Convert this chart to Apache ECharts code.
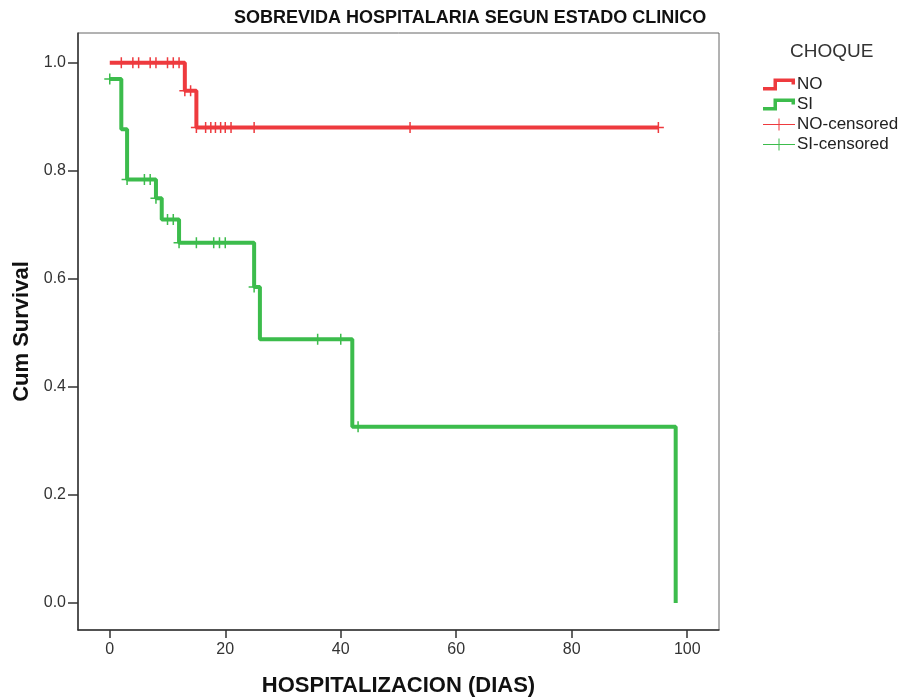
<!DOCTYPE html>
<html>
<head>
<meta charset="utf-8">
<script src="https://cdn.jsdelivr.net/npm/echarts@6/dist/echarts.min.js"></script>
<style>
html,body{margin:0;padding:0;background:#fff;}
#chart{width:906px;height:697px;}
</style>
</head>
<body>
<div id="chart"></div>
<script>
// ---- data ----
const noTimes = [0, 13, 15, 95];
const noSurv  = [1.0, 0.948, 0.880, 0.880];
const siTimes = [0, 2, 3, 8, 9, 12, 25, 26, 42, 98];
const siSurv  = [0.970, 0.877, 0.784, 0.749, 0.710, 0.667, 0.585, 0.488, 0.326, 0.0];
const noCensTimes = [2, 4, 5, 7, 8, 10, 11, 12, 13, 14, 15, 16.6, 17.5, 18.3, 19.2, 20, 21, 25, 52, 95];
const noCensSurv  = [1.0, 1.0, 1.0, 1.0, 1.0, 1.0, 1.0, 1.0, 0.948, 0.948, 0.880, 0.880, 0.880, 0.880, 0.880, 0.880, 0.880, 0.880, 0.880, 0.880];
const siCensTimes = [0, 3, 6, 7, 8, 10, 11, 12, 15, 18, 19, 20, 25, 36, 40, 43];
const siCensSurv  = [0.970, 0.784, 0.784, 0.784, 0.749, 0.710, 0.710, 0.667, 0.667, 0.667, 0.667, 0.667, 0.585, 0.488, 0.488, 0.326];
const xTicks = [0, 20, 40, 60, 80, 100];
const yTicks = [0, 0.2, 0.4, 0.6, 0.8, 1.0];
const seriesNames = ['NO', 'SI', 'NO-censored', 'SI-censored'];

const RED = '#ee3a3e';
const GREEN = '#3cbc4c';
const zip = (a, b) => a.map((v, i) => [v, b[i]]);
const plusPath = 'path://M4.75,0H6.25V11H4.75Z M0,4.75H11V6.25H0Z';
const stepIcon = 'path://M0,8.5H10.5V0H32V6H28.5V3.5H14V12H0Z';
const censIcon = 'path://M0,5.5H32V6.5H0Z M15.5,0H16.5V12H15.5Z';

const chart = echarts.init(document.getElementById('chart'), null, {renderer: 'canvas'});
chart.setOption({
  animation: false,
  backgroundColor: '#fff',
  title: [
    {text: 'SOBREVIDA HOSPITALARIA SEGUN ESTADO CLINICO', left: 234, top: 9, padding: 0,
     textStyle: {fontFamily: 'Liberation Sans, Arial', fontSize: 18, fontWeight: 'bold', color: '#111'}},
    {text: 'CHOQUE', left: 790, top: 42, padding: 0,
     textStyle: {fontFamily: 'Liberation Sans, Arial', fontSize: 19, fontWeight: 'normal', color: '#333'}}
  ],
  legend: {
    orient: 'vertical', left: 763, top: 76, padding: 0, itemGap: 3,
    itemWidth: 32, itemHeight: 12,
    textStyle: {fontFamily: 'Liberation Sans, Arial', fontSize: 17, color: '#222', padding: [0, 0, 0, -3]},
    data: [
      {name: seriesNames[0], icon: stepIcon},
      {name: seriesNames[1], icon: stepIcon},
      {name: seriesNames[2], icon: censIcon},
      {name: seriesNames[3], icon: censIcon}
    ]
  },
  grid: {left: 78, right: 187, top: 33, bottom: 67, outerBoundsMode: 'none', containLabel: false,
         show: true, borderColor: '#666', borderWidth: 1, backgroundColor: '#fff'},
  xAxis: {
    type: 'value', min: -5.5, max: 105.5,
    name: 'HOSPITALIZACION (DIAS)', nameLocation: 'middle', nameGap: 45,
    nameTextStyle: {fontFamily: 'Liberation Sans, Arial', fontSize: 22, fontWeight: 'bold', color: '#111'},
    axisLine: {onZero: false, lineStyle: {color: '#333', width: 1.5}},
    axisTick: {customValues: xTicks, length: 8, lineStyle: {color: '#333', width: 1.5}},
    axisLabel: {customValues: xTicks, fontFamily: 'Liberation Sans, Arial', fontSize: 16, color: '#333', margin: 12},
    splitLine: {show: false}
  },
  yAxis: {
    type: 'value', min: -0.05, max: 1.055,
    name: 'Cum Survival', nameLocation: 'middle', nameGap: 43,
    nameTextStyle: {fontFamily: 'Liberation Sans, Arial', fontSize: 22, fontWeight: 'bold', color: '#111'},
    axisLine: {onZero: false, lineStyle: {color: '#333', width: 1.5}},
    axisTick: {customValues: yTicks, length: 10, lineStyle: {color: '#333', width: 1.5}},
    axisLabel: {customValues: yTicks, formatter: v => v.toFixed(1), fontFamily: 'Liberation Sans, Arial', fontSize: 16, color: '#333', margin: 12},
    splitLine: {show: false}
  },
  series: [
    {name: seriesNames[0], type: 'line', step: 'end', data: zip(noTimes, noSurv), showSymbol: false,
     lineStyle: {color: RED, width: 4}, itemStyle: {color: RED}, z: 2},
    {name: seriesNames[1], type: 'line', step: 'end', data: zip(siTimes, siSurv), showSymbol: false,
     lineStyle: {color: GREEN, width: 4}, itemStyle: {color: GREEN}, z: 2},
    {name: seriesNames[2], type: 'scatter', data: zip(noCensTimes, noCensSurv), symbol: plusPath, symbolSize: 11,
     itemStyle: {color: RED, opacity: 1}, z: 3},
    {name: seriesNames[3], type: 'scatter', data: zip(siCensTimes, siCensSurv), symbol: plusPath, symbolSize: 11,
     itemStyle: {color: GREEN, opacity: 1}, z: 3}
  ]
});
</script>
</body>
</html>
